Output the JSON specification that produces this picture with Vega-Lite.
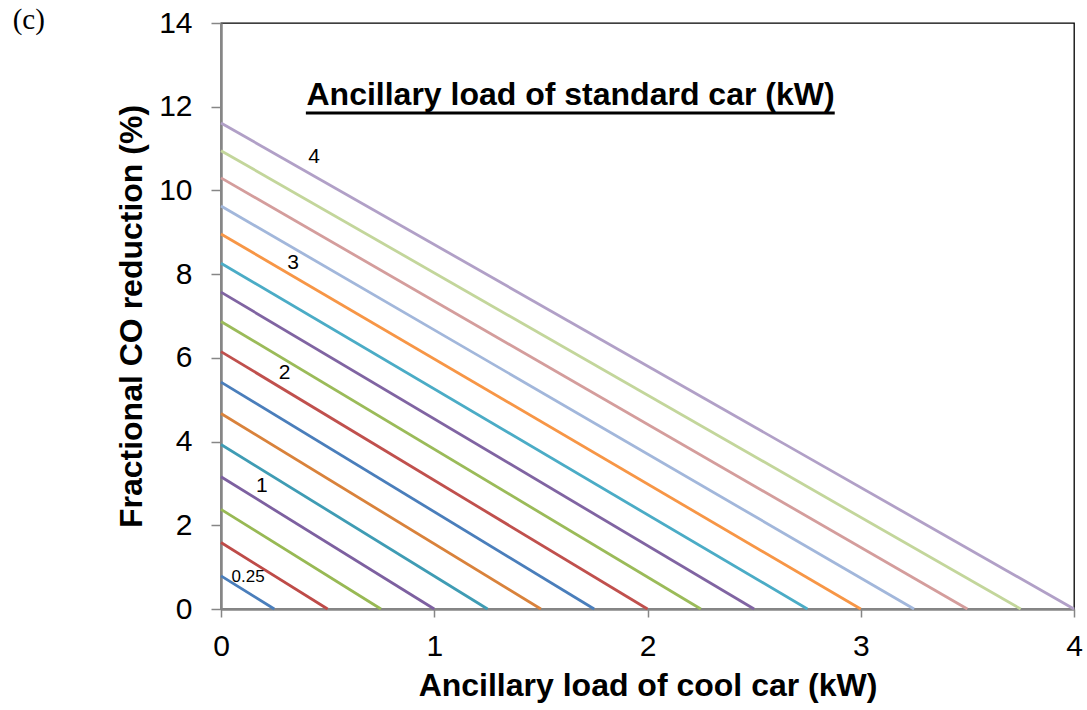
{
  "$schema": "https://vega.github.io/schema/vega-lite/v6.json",
  "width": 853,
  "height": 586,
  "autosize": {"type": "none"},
  "padding": {"left": 221, "top": 23, "right": 13, "bottom": 101},
  "config": {
    "view": {"stroke": "#000000", "strokeWidth": 1.3},
    "font": "Liberation Sans",
    "axis": {"grid": false, "labelColor": "#000000", "titleColor": "#000000", "labelFont": "Liberation Sans", "titleFont": "Liberation Sans"}
  },
  "datasets": {
    "lines": [
      {"s": "0.25", "x": 0, "y": 0.79}, {"s": "0.25", "x": 0.25, "y": 0},
      {"s": "0.5", "x": 0, "y": 1.59}, {"s": "0.5", "x": 0.5, "y": 0},
      {"s": "0.75", "x": 0, "y": 2.38}, {"s": "0.75", "x": 0.75, "y": 0},
      {"s": "1", "x": 0, "y": 3.16}, {"s": "1", "x": 1, "y": 0},
      {"s": "1.25", "x": 0, "y": 3.93}, {"s": "1.25", "x": 1.25, "y": 0},
      {"s": "1.5", "x": 0, "y": 4.67}, {"s": "1.5", "x": 1.5, "y": 0},
      {"s": "1.75", "x": 0, "y": 5.42}, {"s": "1.75", "x": 1.75, "y": 0},
      {"s": "2", "x": 0, "y": 6.15}, {"s": "2", "x": 2, "y": 0},
      {"s": "2.25", "x": 0, "y": 6.87}, {"s": "2.25", "x": 2.25, "y": 0},
      {"s": "2.5", "x": 0, "y": 7.57}, {"s": "2.5", "x": 2.5, "y": 0},
      {"s": "2.75", "x": 0, "y": 8.26}, {"s": "2.75", "x": 2.75, "y": 0},
      {"s": "3", "x": 0, "y": 8.96}, {"s": "3", "x": 3, "y": 0},
      {"s": "3.25", "x": 0, "y": 9.63}, {"s": "3.25", "x": 3.25, "y": 0},
      {"s": "3.5", "x": 0, "y": 10.3}, {"s": "3.5", "x": 3.5, "y": 0},
      {"s": "3.75", "x": 0, "y": 10.95}, {"s": "3.75", "x": 3.75, "y": 0},
      {"s": "4", "x": 0, "y": 11.61}, {"s": "4", "x": 4, "y": 0}
    ],
    "labels": [
      {"label": "4", "x": 0.436, "y": 10.81},
      {"label": "3", "x": 0.338, "y": 8.27},
      {"label": "2", "x": 0.298, "y": 5.64},
      {"label": "1", "x": 0.192, "y": 2.94}
    ],
    "smalllabel": [
      {"label": "0.25", "x": 0.127, "y": 0.77}
    ],
    "heading": [
      {"label": "Ancillary load of standard car (kW)", "x": 1.639, "y": 12.05}
    ],
    "underline": [
      {"x": 0.398, "x2": 2.878, "y": 11.85}
    ],
    "panel": [
      {"label": "(c)", "x": -0.977, "y": 13.85}
    ]
  },
  "encoding": {
    "x": {
      "field": "x", "type": "quantitative",
      "scale": {"domain": [0, 4], "nice": false},
      "axis": {
        "values": [0, 1, 2, 3, 4], "format": "d",
        "labelFontSize": 30, "labelPadding": 14, "labelFlush": false, "labelOverlap": false,
        "tickSize": 8, "tickColor": "#868686", "tickWidth": 1.5,
        "domainColor": "#868686", "domainWidth": 2.5,
        "title": "Ancillary load of cool car (kW)", "titleFontSize": 32, "titleFontWeight": "bold", "titlePadding": 9
      }
    },
    "y": {
      "field": "y", "type": "quantitative",
      "scale": {"domain": [0, 14], "nice": false},
      "axis": {
        "values": [0, 2, 4, 6, 8, 10, 12, 14], "format": "d",
        "labelFontSize": 30, "labelPadding": 19, "labelFlush": false, "labelOverlap": false,
        "tickSize": 10, "tickColor": "#868686", "tickWidth": 1.5,
        "domainColor": "#868686", "domainWidth": 2.5,
        "title": "Fractional CO reduction (%)", "titleFontSize": 32, "titleFontWeight": "bold", "titlePadding": 10
      }
    }
  },
  "layer": [
    {
      "data": {"name": "lines"},
      "mark": {"type": "line", "strokeWidth": 2.8},
      "encoding": {
        "color": {
          "field": "s", "type": "nominal", "legend": null,
          "scale": {
            "domain": ["0.25", "0.5", "0.75", "1", "1.25", "1.5", "1.75", "2", "2.25", "2.5", "2.75", "3", "3.25", "3.5", "3.75", "4"],
            "range": ["#4A7EBB", "#BE4B48", "#98B954", "#7D60A0", "#3F9CB4", "#D9823B", "#4A7EBB", "#C0504D", "#9BBB59", "#8064A2", "#4BACC6", "#F79646", "#A2B7DB", "#D49D9C", "#C3D69B", "#B1A0C7"]
          }
        }
      }
    },
    {
      "data": {"name": "labels"},
      "mark": {"type": "text", "fontSize": 21, "font": "Liberation Sans", "color": "#000000", "align": "center", "baseline": "middle"},
      "encoding": {"text": {"field": "label"}}
    },
    {
      "data": {"name": "smalllabel"},
      "mark": {"type": "text", "fontSize": 17, "font": "Liberation Sans", "color": "#000000", "align": "center", "baseline": "middle"},
      "encoding": {"text": {"field": "label"}}
    },
    {
      "data": {"name": "heading"},
      "mark": {"type": "text", "fontSize": 32, "fontWeight": "bold", "font": "Liberation Sans", "color": "#000000", "align": "center", "baseline": "alphabetic"},
      "encoding": {"text": {"field": "label"}}
    },
    {
      "data": {"name": "underline"},
      "mark": {"type": "rule", "strokeWidth": 3, "color": "#000000"},
      "encoding": {"x2": {"field": "x2"}}
    },
    {
      "data": {"name": "panel"},
      "mark": {"type": "text", "fontSize": 29, "font": "Liberation Serif", "color": "#000000", "align": "left", "baseline": "alphabetic", "clip": false},
      "encoding": {"text": {"field": "label"}}
    }
  ]
}
